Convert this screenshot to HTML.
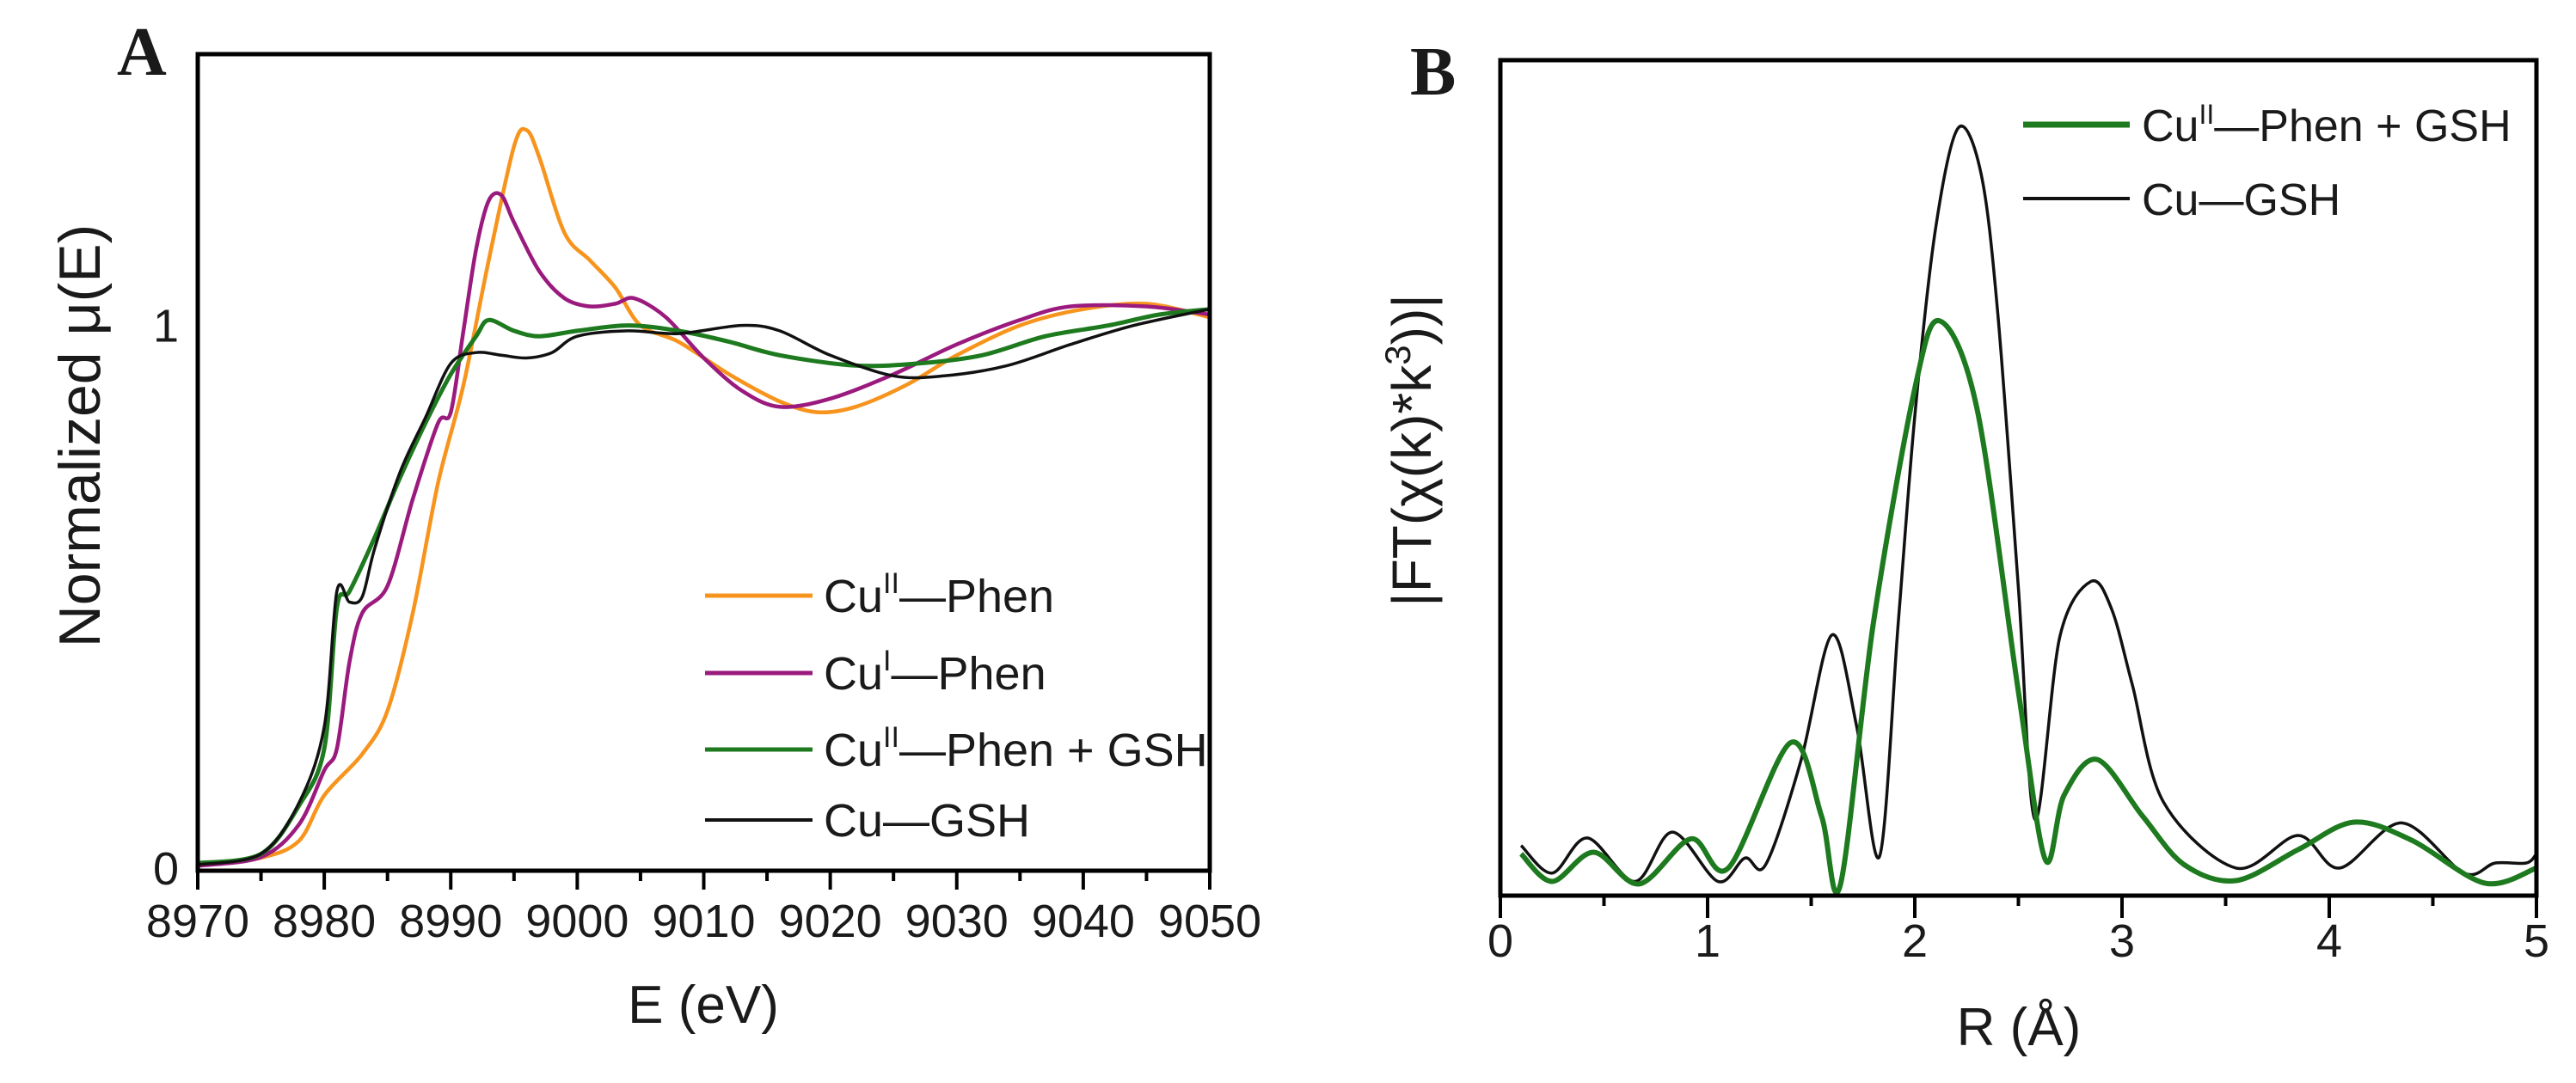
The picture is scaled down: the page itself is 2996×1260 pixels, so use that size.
<!DOCTYPE html>
<html><head><meta charset="utf-8"><style>
html,body{margin:0;padding:0;background:#fff;}
svg{display:block;}
text{font-family:"Liberation Sans",sans-serif;fill:#1a1a1a;}
</style></head>
<body>
<svg id="fig" width="2996" height="1260" viewBox="0 0 2996 1260" xmlns="http://www.w3.org/2000/svg">
<rect width="2996" height="1260" fill="#fff"/>
<g id="panelA"></g>
<g id="panelB"></g>
</svg>
<script>
// ---------- Panel A data (XANES) ----------
const aXTicks = [8970,8980,8990,9000,9010,9020,9030,9040,9050];
const aYTicks = [0,1];
const aOrangeE = [8970,8975,8978,8980,8983,8985,8987,8989,8991,8993,8995,8996,8997,8999,9001,9003,9005,9008,9012,9016,9019,9022,9026,9030,9035,9040,9045,9050];
const aOrangeMu = [0.004,0.019,0.05,0.134,0.21,0.29,0.47,0.71,0.89,1.12,1.33,1.36,1.31,1.17,1.12,1.07,1.00,0.97,0.91,0.86,0.84,0.85,0.89,0.945,1.00,1.03,1.04,1.015];
const aPurpleE = [8970,8975,8978,8980,8981,8982,8983,8985,8987,8989,8990,8991,8992,8993,8994,8995,8997,8999,9001,9003,9004.5,9007,9010,9013,9016,9020,9025,9030,9035,9039,9045,9050];
const aPurpleMu = [0.004,0.02,0.08,0.18,0.22,0.38,0.47,0.52,0.68,0.82,0.84,0.99,1.14,1.23,1.24,1.19,1.10,1.05,1.035,1.04,1.05,1.015,0.94,0.88,0.85,0.865,0.91,0.965,1.01,1.035,1.035,1.02];
const aGreenE = [8970,8975,8978,8980,8981,8982,8984,8986,8988,8990,8992,8993,8995,8997,9000,9004,9008,9012,9016,9022,9027,9032,9037,9042,9046,9050];
const aGreenMu = [0.009,0.026,0.115,0.22,0.48,0.51,0.61,0.72,0.82,0.91,0.98,1.01,0.99,0.98,0.99,1.00,0.99,0.97,0.945,0.926,0.93,0.945,0.98,1.00,1.02,1.03];
const aBlackE = [8970,8975,8978,8980,8981,8982,8983,8984,8986,8988,8990,8992,8994,8996,8998,9000,9004,9008,9013,9016,9020,9025,9029,9034,9039,9044,9050];
const aBlackMu = [0.006,0.026,0.12,0.26,0.51,0.49,0.50,0.59,0.73,0.83,0.93,0.95,0.945,0.94,0.95,0.98,0.99,0.985,1.00,0.99,0.945,0.907,0.907,0.926,0.965,1.00,1.03];

// ---------- Panel B data (FT-EXAFS) ----------
const bXTicks = [0,1,2,3,4,5];
const bBlackR = [0.1,0.25,0.42,0.65,0.83,1.05,1.18,1.28,1.45,1.6,1.72,1.83,1.92,2.0,2.1,2.21,2.32,2.4,2.5,2.58,2.7,2.85,2.95,3.05,3.2,3.55,3.85,4.05,4.35,4.65,4.8,4.95,5.0];
const bBlackFT = [6.0,2.7,6.9,1.7,7.6,1.7,4.5,3.7,16.1,31.2,20.2,4.7,32.6,57.4,79.8,91.9,86.4,69.8,36.8,9.1,31.0,37.6,34.3,25.2,11.2,3.3,7.2,3.3,8.7,2.7,3.9,3.9,5.0];
const bGreenR = [0.1,0.25,0.45,0.67,0.92,1.1,1.4,1.55,1.64,1.8,2.0,2.12,2.3,2.5,2.63,2.72,2.88,3.1,3.3,3.55,3.85,4.12,4.4,4.75,5.0];
const bGreenFT = [5.0,1.7,5.2,1.4,6.8,3.3,18.3,9.5,1.2,32.6,60.7,68.8,58.3,24.4,4.3,12.0,16.3,9.5,3.7,1.8,5.5,8.8,6.6,1.5,3.3];

const NS = "http://www.w3.org/2000/svg";
function mk(tag, attrs, parent){
  const el = document.createElementNS(NS, tag);
  for (const k in attrs) el.setAttribute(k, attrs[k]);
  parent.appendChild(el);
  return el;
}
function smoothPath(pts){
  let d = "M" + pts[0][0].toFixed(1) + "," + pts[0][1].toFixed(1);
  for (let i=0;i<pts.length-1;i++){
    const p0 = pts[i-1]||pts[i], p1 = pts[i], p2 = pts[i+1], p3 = pts[i+2]||pts[i+1];
    const t = 0.16;
    const c1 = [p1[0]+(p2[0]-p0[0])*t, p1[1]+(p2[1]-p0[1])*t];
    const c2 = [p2[0]-(p3[0]-p1[0])*t, p2[1]-(p3[1]-p1[1])*t];
    d += " C"+c1[0].toFixed(1)+","+c1[1].toFixed(1)+" "+c2[0].toFixed(1)+","+c2[1].toFixed(1)+" "+p2[0].toFixed(1)+","+p2[1].toFixed(1);
  }
  return d;
}

// ---------- Panel A ----------
const A = document.getElementById('panelA');
const aL=230, aR=1407, aT=63, aB=1013;
const ax = v => aL + (v-8970)/(9050-8970)*(aR-aL);
const ay = v => aB - (v+0.005)/1.505*(aB-aT);

function drawA(){
  const series = [
    {e:aOrangeE, m:aOrangeMu, c:"#f7941d", w:4.5, n:"cu2-phen-line"},
    {e:aPurpleE, m:aPurpleMu, c:"#9b1a7e", w:4.5, n:"cu1-phen-line"},
    {e:aGreenE, m:aGreenMu, c:"#1e7a1e", w:5, n:"cu2-phen-gsh-line"},
    {e:aBlackE, m:aBlackMu, c:"#111", w:3.5, n:"cu-gsh-line"}
  ];
  for (const s of series){
    const pts = s.e.map((e,i)=>[ax(e), ay(s.m[i])]);
    const p = mk('path',{d:smoothPath(pts), fill:"none", stroke:s.c, "stroke-width":s.w, "stroke-linejoin":"round"}, A);
    
    
  }
  const frame = mk('rect',{x:aL,y:aT,width:aR-aL,height:aB-aT,fill:"none",stroke:"#000","stroke-width":5},A);
  
  
  for (let v=8970; v<=9050; v+=5){
    const major = (v%10===0);
    const t = mk('line',{x1:ax(v),x2:ax(v),y1:aB,y2:aB+(major?22:12),stroke:"#000","stroke-width":4},A);
    
    
  }
  for (const v of aXTicks){
    const t = mk('text',{x:ax(v),y:1090,"font-size":54,"text-anchor":"middle"},A);
    t.textContent = v;
    
    
  }
  for (const v of aYTicks){
    const t = mk('text',{x:208,y:ay(v)+19,"font-size":54,"text-anchor":"end"},A);
    t.textContent = v;
    
    
  }
}
drawA();

// ---------- Panel B ----------
const B = document.getElementById('panelB');
const bL=1745, bR=2950, bT=70, bB=1042;
const bx = v => bL + v/5*(bR-bL);
const by = v => bB - v/100*(bB-bT);
function drawB(){
  const series = [
    {r:bBlackR, f:bBlackFT, c:"#111", w:3.5, n:"cu-gsh-ft-line"},
    {r:bGreenR, f:bGreenFT, c:"#1e7a1e", w:6, n:"cu2-phen-gsh-ft-line"}
  ];
  for (const s of series){
    const pts = s.r.map((r,i)=>[bx(r), by(s.f[i])]);
    const p = mk('path',{d:smoothPath(pts), fill:"none", stroke:s.c, "stroke-width":s.w, "stroke-linejoin":"round"}, B);
    
    
  }
  const frame = mk('rect',{x:bL,y:bT,width:bR-bL,height:bB-bT,fill:"none",stroke:"#000","stroke-width":5},B);
  
  
  for (let v=0; v<=5.001; v+=0.5){
    const major = Math.abs(v-Math.round(v))<0.01;
    const t = mk('line',{x1:bx(v),x2:bx(v),y1:bB,y2:bB+(major?26:12),stroke:"#000","stroke-width":4},B);
    
    
  }
  for (const v of bXTicks){
    const t = mk('text',{x:bx(v),y:1113,"font-size":54,"text-anchor":"middle"},B);
    t.textContent = v;
    
    
  }
}
drawB();
</script>
<svg style="position:absolute;left:0;top:0" width="2996" height="1260" viewBox="0 0 2996 1260" xmlns="http://www.w3.org/2000/svg">
  <text x="136" y="87" font-size="80" font-weight="bold" style="font-family:'Liberation Serif',serif">A</text>
  <text x="1640" y="110" font-size="80" font-weight="bold" style="font-family:'Liberation Serif',serif">B</text>
  <text x="818" y="1190" font-size="62" text-anchor="middle">E (eV)</text>
  <text transform="translate(116,507) rotate(-90)" font-size="68" text-anchor="middle">Normalized μ(E)</text>
  <text x="2348" y="1216" font-size="62" text-anchor="middle">R (Å)</text>
  <text transform="translate(1664,524) rotate(-90)" font-size="64" text-anchor="middle">|FT(χ(k)*k<tspan dy="-24" font-size="42">3</tspan><tspan dy="24">))|</tspan></text>
  <g>
    <g>
      <line x1="820" y1="693" x2="945" y2="693" stroke="#f7941d" stroke-width="5"/>
      <text x="958" y="712" font-size="54">Cu<tspan dy="-22" font-size="34">II</tspan><tspan dy="22">—Phen</tspan></text>
    </g>
    <g>
      <line x1="820" y1="783" x2="945" y2="783" stroke="#9b1a7e" stroke-width="5"/>
      <text x="958" y="802" font-size="54">Cu<tspan dy="-22" font-size="34">I</tspan><tspan dy="22">—Phen</tspan></text>
    </g>
    <g>
      <line x1="820" y1="872" x2="945" y2="872" stroke="#1e7a1e" stroke-width="5"/>
      <text x="958" y="891" font-size="54">Cu<tspan dy="-22" font-size="34">II</tspan><tspan dy="22">—Phen  + GSH</tspan></text>
    </g>
    <g>
      <line x1="820" y1="954" x2="945" y2="954" stroke="#111" stroke-width="4"/>
      <text x="958" y="973" font-size="54">Cu—GSH</text>
    </g>
  </g>
  <g>
    <g>
      <line x1="2353" y1="145" x2="2477" y2="145" stroke="#1e7a1e" stroke-width="7"/>
      <text x="2491" y="164" font-size="52">Cu<tspan dy="-20" font-size="32">II</tspan><tspan dy="20">—Phen + GSH</tspan></text>
    </g>
    <g>
      <line x1="2353" y1="231" x2="2477" y2="231" stroke="#111" stroke-width="4"/>
      <text x="2491" y="250" font-size="52">Cu—GSH</text>
    </g>
  </g>
</svg>
</body></html>
